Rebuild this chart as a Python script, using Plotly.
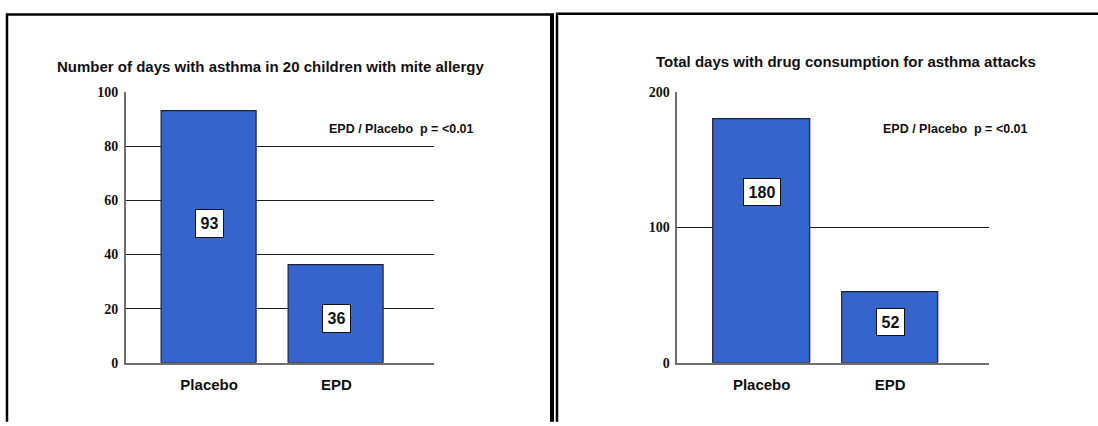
import plotly.graph_objects as go
from plotly.subplots import make_subplots

W, H = 1098, 426

# ---- data ----
categories = ["Placebo", "EPD"]
asthma_days = [93, 36]
drug_days = [180, 52]
left_title = "Number of days with asthma in 20 children with mite allergy"
right_title = "Total days with drug consumption for asthma attacks"
p_note = "EPD / Placebo  p = <0.01"
left_ticks = [0, 20, 40, 60, 80, 100]
right_ticks = [0, 100, 200]

# ---- styling / placement ----
SANS = "Liberation Sans Narrow, Arial Narrow, Liberation Sans, Arial, sans-serif"
SERIF = "Liberation Serif, Times New Roman, serif"
BAR_COLOR = "#3565CC"
BAR_EDGE = "#1c1f3a"
GRID = "#1e1e1e"
AXIS = "#6e6e6e"

# vertical spot of each value box, as a fraction of its bar height
left_box_frac = [0.553, 0.455]
right_box_frac = [0.70, 0.577]


def px_x(p):
    return p / W


def px_y(p):
    return 1 - p / H


fig = make_subplots(rows=1, cols=2)

xs = list(range(len(categories)))
fig.add_trace(go.Bar(x=xs, y=asthma_days, width=0.75,
                     marker=dict(color=BAR_COLOR, line=dict(color=BAR_EDGE, width=1.2)),
                     hoverinfo="skip", showlegend=False), row=1, col=1)
fig.add_trace(go.Bar(x=xs, y=drug_days, width=0.75,
                     marker=dict(color=BAR_COLOR, line=dict(color=BAR_EDGE, width=1.2)),
                     hoverinfo="skip", showlegend=False), row=1, col=2)

ydom = [px_y(368.7), px_y(88.3)]
common_x = dict(range=[-0.656, 1.768], tickmode="array", tickvals=xs, ticktext=categories,
                showgrid=False, zeroline=False, showline=True, linecolor=AXIS, linewidth=2,
                ticks="", tickfont=dict(family=SANS, size=15, color="#111", weight="bold"),
                ticklabelstandoff=7, fixedrange=True)
common_y = dict(showgrid=True, gridcolor=GRID, gridwidth=1, zeroline=False,
                showline=True, linecolor=AXIS, linewidth=1.5, ticks="",
                tickfont=dict(family=SERIF, size=14, color="#111", weight="bold"),
                ticklabelstandoff=3, fixedrange=True, domain=ydom)

fig.update_layout(
    xaxis=dict(common_x, domain=[px_x(125.7), px_x(434)]),
    xaxis2=dict(common_x, domain=[px_x(677.3), px_x(989)]),
    yaxis=dict(common_y, range=[0, 100], tickvals=left_ticks),
    yaxis2=dict(common_y, range=[0, 200], tickvals=right_ticks),
)

ann = []
# value boxes
for i, v in enumerate(asthma_days):
    ann.append(dict(x=i, y=v * left_box_frac[i], xref="x", yref="y", text=f"<b>{v}</b>",
                    showarrow=False, bgcolor="white", bordercolor="#111", borderwidth=1,
                    borderpad=1, width=9 * len(str(v)) + 7, height=25,
                    xanchor="center", yanchor="middle",
                    font=dict(family=SANS, size=16, color="#111")))
for i, v in enumerate(drug_days):
    ann.append(dict(x=i, y=v * right_box_frac[i], xref="x2", yref="y2", text=f"<b>{v}</b>",
                    showarrow=False, bgcolor="white", bordercolor="#111", borderwidth=1,
                    borderpad=1, width=9 * len(str(v)) + 7, height=24,
                    xanchor="center", yanchor="middle",
                    font=dict(family=SANS, size=16, color="#111")))
# titles
ann.append(dict(x=px_x(270), y=px_y(62), xref="paper", yref="paper", text=f"<b>{left_title}</b>",
                showarrow=False, xanchor="center", yanchor="middle",
                font=dict(family=SANS, size=15, color="#111")))
ann.append(dict(x=px_x(846), y=px_y(57), xref="paper", yref="paper", text=f"<b>{right_title}</b>",
                showarrow=False, xanchor="center", yanchor="middle",
                font=dict(family=SANS, size=15, color="#111")))
# significance notes
for cx in (401.5, 955.5):
    ann.append(dict(x=px_x(cx), y=px_y(126), xref="paper", yref="paper", text=f"<b>{p_note}</b>",
                    showarrow=False, xanchor="center", yanchor="middle",
                    font=dict(family=SANS, size=12.5, color="#111")))

# panel frames
shapes = []


def seg(x0, y0, x1, y1, w):
    shapes.append(dict(type="line", xref="paper", yref="paper",
                       x0=px_x(x0), y0=px_y(y0), x1=px_x(x1), y1=px_y(y1),
                       line=dict(color="black", width=w)))


seg(6, 7.8, 554, 7.8, 2.5)
seg(7, 7, 7, 430, 2.5)
seg(552, 7, 552, 430, 4)
seg(557, 7, 557, 430, 2.5)
seg(556, 7, 1100, 7, 2.5)

fig.update_layout(
    width=W, height=H, margin=dict(l=0, r=0, t=0, b=0),
    paper_bgcolor="white", plot_bgcolor="white",
    annotations=ann, shapes=shapes, bargap=0,
)

fig.write_html("out.html", config={"displayModeBar": False})
